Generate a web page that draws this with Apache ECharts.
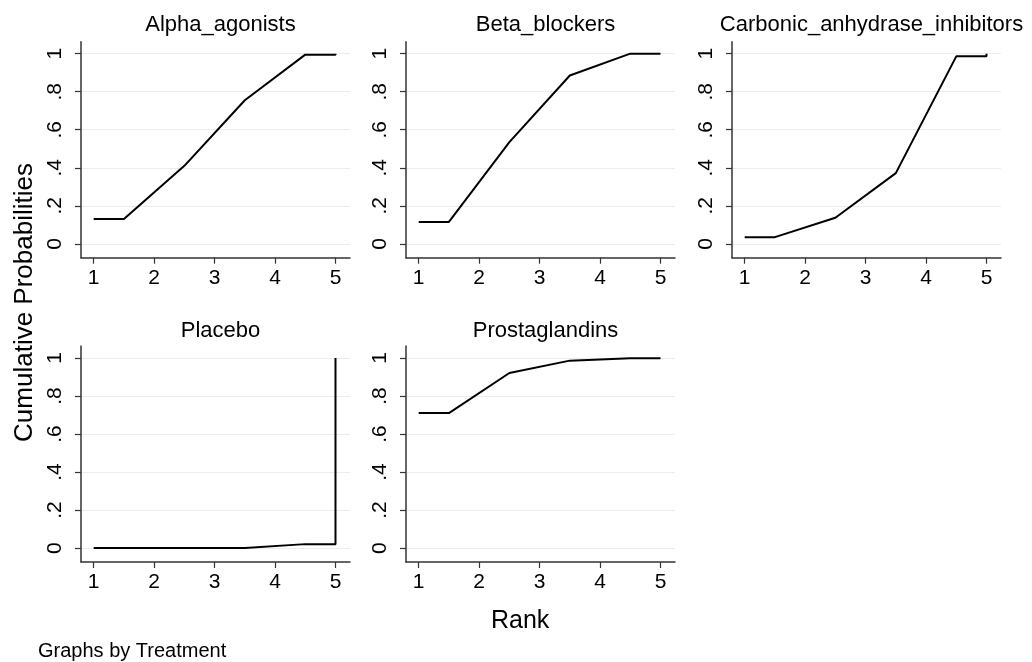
<!DOCTYPE html>
<html>
<head>
<meta charset="utf-8">
<script src="https://cdn.jsdelivr.net/npm/echarts@6/dist/echarts.min.js"></script>
<style>
  html, body { margin: 0; padding: 0; background: #fff; }
  #chart { width: 1032px; height: 662px; }
</style>
</head>
<body>
<div id="chart"></div>
<script>
// data
const treatments = ['Alpha_agonists', 'Beta_blockers', 'Carbonic_anhydrase_inhibitors', 'Placebo', 'Prostaglandins']
const rankX = [1, 1.5, 2.5, 3.5, 4.5, 5, 5]
const alphaAgonists = [0.13, 0.13, 0.41, 0.755, 0.995, 0.995, 1]
const betaBlockers = [0.115, 0.115, 0.535, 0.885, 1, 1, 1]
const carbonicInhib = [0.035, 0.035, 0.137, 0.372, 0.986, 0.986, 1]
const placebo = [0, 0, 0, 0, 0.021, 0.021, 1]
const prostaglandins = [0.71, 0.71, 0.921, 0.986, 0.998, 0.998, 1]
const xTicks = [1, 2, 3, 4, 5]
const yTicks = [0, 0.2, 0.4, 0.6, 0.8, 1]
const yTickLabels = ['0', '.2', '.4', '.6', '.8', '1']

const seriesData = [alphaAgonists, betaBlockers, carbonicInhib, placebo, prostaglandins]

const FONT = "'Liberation Sans', Arial, sans-serif"
const AXIS_COLOR = '#333'
const GRID_COLOR = '#e6eef1'

// panel placement (left, top) in px
const panelPos = [
  [81, 41.7], [406, 41.7], [732, 41.7],
  [81, 346], [406, 346]
]
const panelW = 269
const panelH = 216

const chart = echarts.init(document.getElementById('chart'), null, { renderer: 'canvas' })

const grids = []
const xAxes = []
const yAxes = []
const series = []
const titles = []

panelPos.forEach((p, i) => {
  grids.push({ left: p[0], top: p[1], width: panelW, height: panelH })
  xAxes.push({
    type: 'value',
    gridIndex: i,
    min: 0.79,
    max: 5.24,
    axisLine: { show: true, onZero: false, lineStyle: { color: AXIS_COLOR, width: 1.5 } },
    axisTick: { show: true, length: 6, customValues: xTicks, lineStyle: { color: AXIS_COLOR, width: 1.2 } },
    axisLabel: {
      customValues: xTicks,
      margin: 10,
      fontSize: 21,
      fontFamily: FONT,
      color: '#000'
    },
    splitLine: { show: false }
  })
  yAxes.push({
    type: 'value',
    gridIndex: i,
    min: -0.073,
    max: 1.063,
    axisLine: { show: true, onZero: false, lineStyle: { color: AXIS_COLOR, width: 1.5 } },
    axisTick: { show: true, length: 6, customValues: yTicks, lineStyle: { color: AXIS_COLOR, width: 1.2 } },
    axisLabel: {
      customValues: yTicks,
      rotate: 90,
      margin: 15,
      fontSize: 21,
      fontFamily: FONT,
      color: '#000',
      formatter: function (v) {
        const k = yTicks.indexOf(v)
        return k >= 0 ? yTickLabels[k] : ''
      }
    },
    splitLine: { show: true, lineStyle: { color: GRID_COLOR, width: 1.2 } }
  })
  series.push({
    name: treatments[i],
    type: 'line',
    xAxisIndex: i,
    yAxisIndex: i,
    showSymbol: false,
    symbol: 'none',
    animation: false,
    lineStyle: { color: '#000', width: 2 },
    data: rankX.map((x, k) => [x, seriesData[i][k]])
  })
  titles.push({
    text: treatments[i],
    left: p[0] + panelW / 2,
    top: i < 3 ? 9 : 315,
    textAlign: 'center',
    textStyle: { fontSize: 22, fontWeight: 'normal', fontFamily: FONT, color: '#000' }
  })
})

chart.setOption({
  backgroundColor: '#fff',
  animation: false,
  title: titles,
  grid: grids,
  xAxis: xAxes,
  yAxis: yAxes,
  series: series,
  graphic: [
    {
      type: 'text',
      left: 12,
      top: 163,
      rotation: Math.PI / 2,
      style: { text: 'Cumulative Probabilities', font: "26px 'Liberation Sans', Arial, sans-serif", fill: '#000' }
    },
    {
      type: 'text',
      left: 491,
      top: 609,
      style: { text: 'Rank', font: "25px 'Liberation Sans', Arial, sans-serif", fill: '#000' }
    },
    {
      type: 'text',
      left: 38,
      top: 641,
      style: { text: 'Graphs by Treatment', font: "20px 'Liberation Sans', Arial, sans-serif", fill: '#000' }
    }
  ]
})
</script>
</body>
</html>
